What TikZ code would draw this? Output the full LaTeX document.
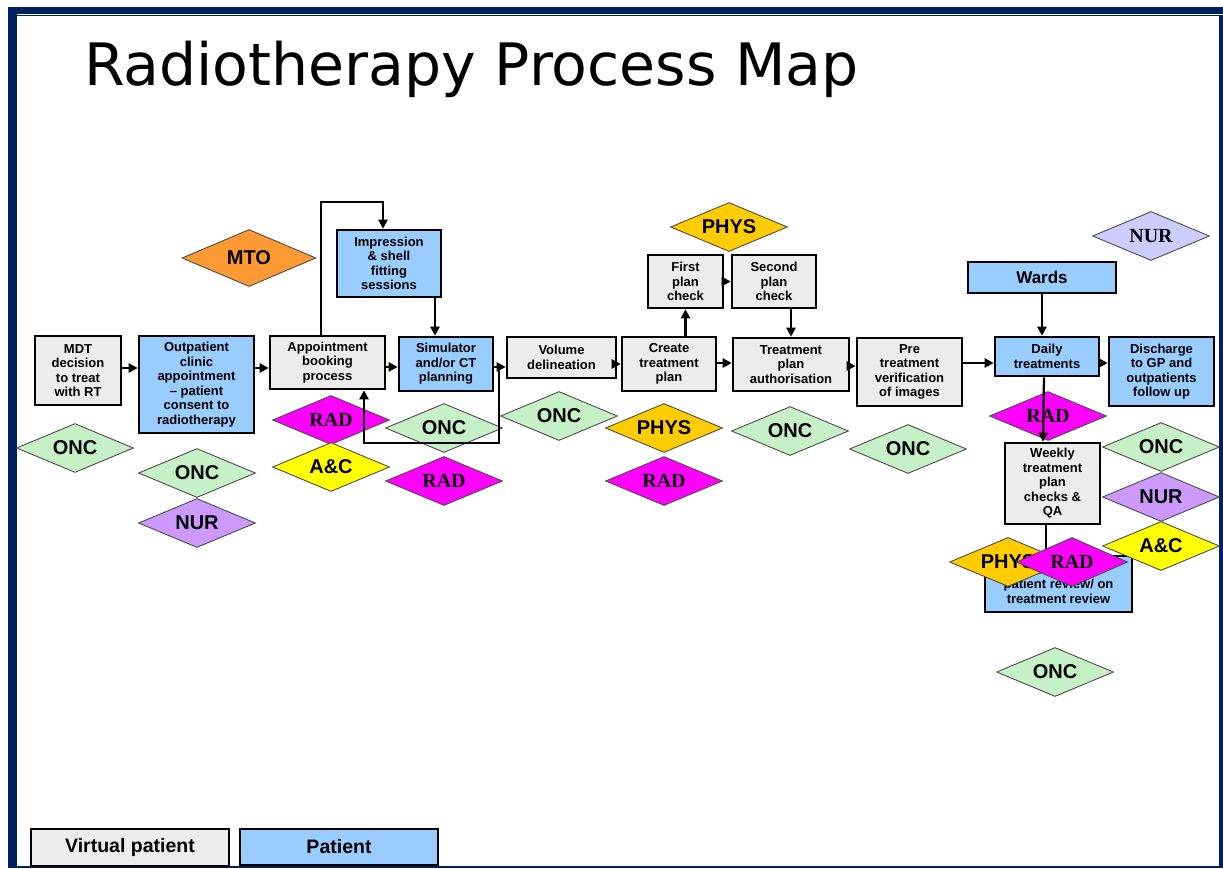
\documentclass[tikz,border=0pt]{standalone}
\usepackage{fontspec}
\setmainfont{Liberation Sans}
\newfontfamily\titlefont{DejaVu Sans}
\newfontfamily\serifbold{Liberation Serif}
\usetikzlibrary{shapes.geometric, arrows.meta}
\definecolor{navy}{RGB}{0,32,96}
\definecolor{virtgray}{RGB}{236,236,236}
\definecolor{patblue}{RGB}{153,204,255}
\definecolor{oncgreen}{RGB}{198,240,198}
\definecolor{radmag}{RGB}{255,0,255}
\definecolor{acyellow}{RGB}{255,255,0}
\definecolor{physgold}{RGB}{255,204,0}
\definecolor{mtoorange}{RGB}{255,153,51}
\definecolor{nurpurple}{RGB}{204,153,255}
\definecolor{nurlav}{RGB}{204,204,255}

\begin{document}
\begin{tikzpicture}[x=1pt, y=-1pt,
  box/.style = {draw, line width=2.6pt, align=center, inner sep=0pt, font=\bfseries\fontsize{13}{14.5}\selectfont},
  virt/.style = {box, fill=virtgray},
  pat/.style = {box, fill=patblue},
  wh/.style 2 args = {minimum width=#1pt, minimum height=#2pt},
  staff/.style = {diamond, aspect=2.4, draw=black!70, line width=.9pt, fill=#1, inner sep=0pt,
    minimum width=117pt, minimum height=49pt, font=\bfseries\fontsize{20}{20}\selectfont},
  serif/.style = {font=\serifbold\bfseries\fontsize{20}{20}\selectfont},
  rad/.style = {staff=radmag, serif},
  arr/.style = {line width=2.3pt, -{Triangle[length=9pt, width=9pt]}}]
  \useasboundingbox (0,0) rectangle (1223,868);
  \fill[navy] (8,7) rectangle (1223,13.5);
  \fill[navy] (17,14.5) rectangle (1219,16);
  \fill[navy] (8,7) rectangle (17,868);
  \fill[navy] (1219,14.5) rectangle (1222.5,868);
  \fill[navy] (8,866) rectangle (1223,868);
  \node[anchor=base west, inner sep=0pt, font=\titlefont\fontsize{58.5}{60}\selectfont] (title) at (84,85) {Radiotherapy Process Map};

  \node[virt, wh={86}{69}] (mdt) at (78,370.5) {MDT\\decision\\to treat\\with RT};
  \node[pat, wh={115}{97}] (out) at (196.5,384.5) {Outpatient\\clinic\\appointment\\– patient\\consent to\\radiotherapy};
  \node[virt, wh={115}{53}] (app) at (327.5,362.5) {Appointment\\booking\\process};
  \node[pat, wh={104}{67}] (imp) at (389,263.5) {Impression\\\& shell\\fitting\\sessions};
  \node[pat, wh={94}{54}] (sim) at (446,364) {Simulator\\and/or CT\\planning};
  \node[virt, wh={109}{41}] (vol) at (561.5,357.5) {Volume\\delineation};
  \node[virt, wh={94}{54}] (create) at (669,364) {Create\\treatment\\plan};
  \node[virt, wh={75}{53}] (first) at (685.5,281.5) {First\\plan\\check};
  \node[virt, wh={84}{53}] (second) at (774,281.5) {Second\\plan\\check};
  \node[virt, wh={116}{53}] (tpa) at (791,364.5) {Treatment\\plan\\authorisation};
  \node[virt, wh={105}{68}] (pre) at (909.5,372) {Pre\\treatment\\verification\\of images};
  \node[pat, wh={104}{39}] (daily) at (1047,356.5) {Daily\\treatments};
  \node[pat, wh={105}{69}] (disch) at (1161.5,371.5) {Discharge\\to GP and\\outpatients\\follow up};
  \node[pat, wh={148}{31}, font=\bfseries\fontsize{17}{18}\selectfont] (wards) at (1042,277.5) {Wards};
  \node[virt, wh={95}{81}] (wqa) at (1052.5,483.5) {Weekly\\treatment\\plan\\checks \&\\QA};
  \node[pat, wh={147}{56}] (rev) at (1058.5,584) {Weekly\\patient review/ on\\treatment review};
  \node[virt, wh={198}{37}, font=\bfseries\fontsize{19.5}{20}\selectfont] (lvirt) at (130,847.5) {Virtual patient};
  \node[pat, wh={198}{36}, font=\bfseries\fontsize{19.5}{20}\selectfont] (lpat) at (339,847) {Patient};

  \node[staff=mtoorange, minimum width=134pt, minimum height=57pt] (mto) at (249,258) {MTO};
  \node[staff=oncgreen] (onc1) at (75,448) {ONC};
  \node[staff=oncgreen] (onc2) at (197,473) {ONC};
  \node[staff=nurpurple] (nur1) at (197,523) {NUR};
  \node[rad] (rad1) at (331,420) {RAD};
  \node[staff=acyellow] (ac1) at (331,467) {A\&C};
  \node[staff=oncgreen] (onc3) at (444,428) {ONC};
  \node[rad] (rad2) at (444,481) {RAD};
  \node[staff=oncgreen] (onc4) at (559,416) {ONC};
  \node[staff=physgold] (phys1) at (664,428) {PHYS};
  \node[rad] (rad3) at (664,481) {RAD};
  \node[staff=physgold] (phys2) at (729,227) {PHYS};
  \node[staff=oncgreen] (onc5) at (790,431) {ONC};
  \node[staff=oncgreen] (onc6) at (908,449) {ONC};
  \node[staff=nurlav, serif] (nur2) at (1151,236) {NUR};
  \node[rad] (rad4) at (1048,416) {RAD};
  \node[staff=oncgreen] (onc7) at (1161,447) {ONC};
  \node[staff=nurpurple] (nur3) at (1161,497) {NUR};
  \node[staff=acyellow] (ac2) at (1161,546) {A\&C};
  \node[staff=oncgreen] (onc8) at (1055,672) {ONC};

  \draw[arr] (mdt.east |- 0,368) -- (out.west |- 0,368);
  \draw[arr] (out.east |- 0,368) -- (app.west |- 0,368);
  \draw[arr] (app.east |- 0,367) -- (sim.west |- 0,367);
  \draw[arr] ([xshift=-6.5pt]app.north) -- ++(0,-133) -| ([xshift=-6pt]imp.north);
  \draw[arr] ([xshift=46pt]imp.south) -- ([xshift=46pt]imp.south |- sim.north);
  \draw[arr] (sim.east |- 0,367) -- (vol.west |- 0,367);
  \draw[arr] ([xshift=5pt]sim.east |- 0,367) -- ++(0,76) -| ([xshift=36.5pt]app.south);
  \draw[arr] (vol.east |- 0,364) -- (create.west |- 0,364);
  \draw[arr] (create.north -| first.south) -- (first.south);
  \draw[arr] (first.east) -- (second.west);
  \draw[arr] (second.south -| tpa.north) -- (tpa.north);
  \draw[arr] (create.east |- 0,363) -- (tpa.west |- 0,363);
  \draw[arr] (tpa.east |- 0,366) -- (pre.west |- 0,366);
  \draw[arr] (pre.east |- 0,363) -- (daily.west |- 0,363);
  \draw[arr] (daily.east |- 0,363) -- (disch.west |- 0,363);
  \draw[arr] (wards.south) -- (wards.south |- daily.north);
  \draw[arr] ([xshift=-3pt]daily.south) -- ([xshift=-9.5pt]wqa.north);
  \draw[line width=2.3pt] ([xshift=-6.5pt]wqa.south) -- ([xshift=-6.5pt]wqa.south |- rev.north);

  \node[staff=physgold] (phys3) at (1008,562) {PHYS};
  \node[rad, minimum width=111pt] (rad5) at (1072,562) {RAD};
\end{tikzpicture}
\end{document}
